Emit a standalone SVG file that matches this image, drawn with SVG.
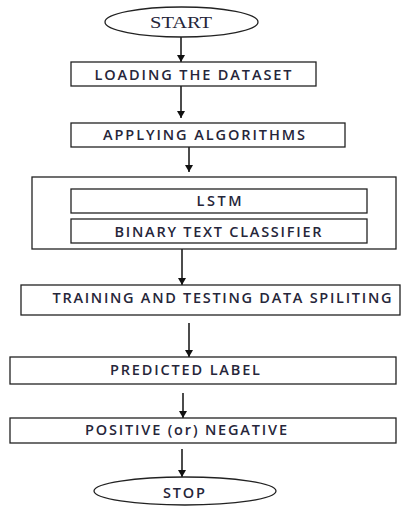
<svg xmlns="http://www.w3.org/2000/svg" width="408" height="506" viewBox="0 0 408 506">
<defs>
<style>
.box{fill:#fff;stroke:#222;stroke-width:1.3}
.t{font-family:"Open Sans","Liberation Sans",Arial,sans-serif;font-size:14.5px;font-weight:600;fill:#26263a;text-anchor:middle}
.s{font-family:"Liberation Serif","Times New Roman",serif;font-size:16px;fill:#26263a;text-anchor:middle}
.c{stroke:#111;stroke-width:1.5;fill:none;marker-end:url(#ah)}
</style>
<marker id="ah" markerWidth="8" markerHeight="8" refX="7" refY="4" orient="auto" markerUnits="userSpaceOnUse">
<path d="M0,0 L7,4 L0,8 Z" fill="#111"/>
</marker>
</defs>
<rect width="408" height="506" fill="#fff"/>
<g id="connectors">
<line class="c" x1="181" y1="37" x2="181" y2="62"/>
<line class="c" x1="181" y1="86" x2="181" y2="118"/>
<line class="c" x1="189" y1="147" x2="189" y2="172"/>
<line class="c" x1="182" y1="249" x2="182" y2="285"/>
<line class="c" x1="189" y1="323" x2="189" y2="357"/>
<line class="c" x1="183" y1="393" x2="183" y2="418"/>
<line class="c" x1="182" y1="449" x2="182" y2="477"/>
</g>
<g id="start">
<ellipse class="box" cx="181.5" cy="22" rx="76.5" ry="15"/>
<text class="s" x="181" y="27.5" textLength="62" lengthAdjust="spacingAndGlyphs">START</text>
</g>
<g id="loading">
<rect class="box" x="71" y="62" width="245" height="24"/>
<text class="t" x="193" y="80" textLength="197">LOADING THE DATASET</text>
</g>
<g id="applying">
<rect class="box" x="71" y="123" width="274" height="24"/>
<text class="t" x="204" y="140" textLength="202">APPLYING ALGORITHMS</text>
</g>
<g id="algorithms">
<rect class="box" x="32" y="177" width="364" height="72"/>
</g>
<g id="lstm">
<rect class="box" x="71" y="189" width="296" height="24"/>
<text class="t" x="219" y="206" textLength="45">LSTM</text>
</g>
<g id="binary">
<rect class="box" x="71" y="219" width="296" height="24"/>
<text class="t" x="218" y="237" textLength="207">BINARY TEXT CLASSIFIER</text>
</g>
<g id="training">
<rect class="box" x="21" y="285" width="379" height="30"/>
<text class="t" x="222" y="303" textLength="339">TRAINING AND TESTING DATA SPILITING</text>
</g>
<g id="predicted">
<rect class="box" x="10" y="357" width="386" height="27"/>
<text class="t" x="185" y="375" textLength="150">PREDICTED LABEL</text>
</g>
<g id="positive">
<rect class="box" x="10" y="418" width="386" height="25"/>
<text class="t" x="186" y="435" textLength="202">POSITIVE (or) NEGATIVE</text>
</g>
<g id="stop">
<ellipse class="box" cx="185" cy="491" rx="91" ry="14"/>
<text class="t" x="184" y="498" textLength="42">STOP</text>
</g>
</svg>
